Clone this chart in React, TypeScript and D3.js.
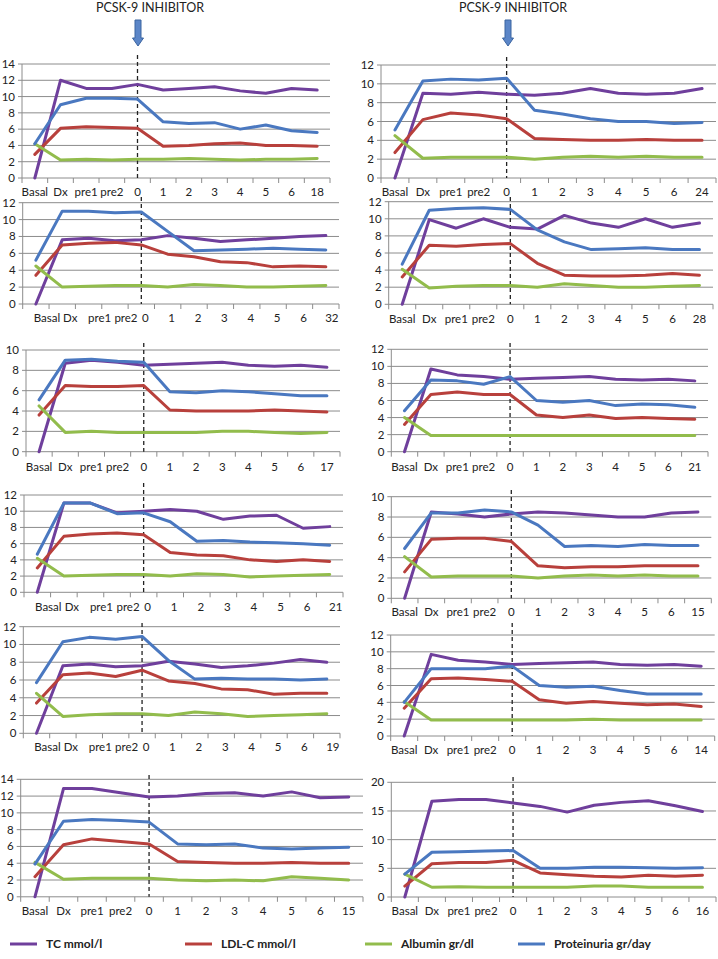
import React from 'react';
import * as d3 from 'd3';

const baseCategories = ["Basal", "Dx", "pre1", "pre2", "0", "1", "2", "3", "4", "5", "6"];
const lastLabels = ["18", "24", "32", "28", "17", "21", "21", "15", "19", "14", "15", "16"];
const yMaxes = [14, 12, 12, 12, 10, 12, 12, 10, 12, 12, 14, 20];
const ySteps = [2, 2, 2, 2, 2, 2, 2, 2, 2, 2, 2, 5];

const tcValues = [
  [0, 12.0, 11.0, 11.0, 11.5, 10.8, 11.0, 11.2, 10.7, 10.4, 11.0, 10.8],
  [0, 9.0, 8.9, 9.1, 8.9, 8.8, 9.0, 9.5, 9.0, 8.9, 9.0, 9.5],
  [0, 7.6, 7.8, 7.5, 7.6, 8.1, 7.8, 7.4, 7.6, 7.8, 8.0, 8.1],
  [0, 9.9, 8.9, 10.0, 9.0, 8.8, 10.4, 9.5, 9.0, 10.0, 9.0, 9.5],
  [0, 8.7, 9.0, 8.8, 8.5, 8.6, 8.7, 8.8, 8.5, 8.4, 8.5, 8.3],
  [0, 9.7, 9.0, 8.8, 8.5, 8.6, 8.7, 8.8, 8.5, 8.4, 8.5, 8.3],
  [0, 11.0, 11.0, 9.8, 10.0, 10.2, 10.0, 9.0, 9.4, 9.5, 7.9, 8.1],
  [0, 8.5, 8.3, 8.0, 8.3, 8.5, 8.4, 8.2, 8.0, 8.0, 8.4, 8.5],
  [0, 7.6, 7.8, 7.5, 7.6, 8.1, 7.8, 7.4, 7.6, 7.9, 8.3, 8.0],
  [0, 9.7, 9.0, 8.8, 8.5, 8.6, 8.7, 8.8, 8.5, 8.4, 8.5, 8.3],
  [0, 12.9, 12.9, 12.4, 11.9, 12.0, 12.3, 12.4, 12.0, 12.5, 11.8, 11.9],
  [0, 16.7, 17.0, 17.0, 16.4, 15.8, 14.8, 16.0, 16.5, 16.8, 15.9, 14.9],
];

const ldlValues = [
  [2.9, 6.1, 6.3, 6.2, 6.1, 3.9, 4.0, 4.2, 4.3, 4.0, 4.0, 3.9],
  [2.7, 6.2, 6.9, 6.7, 6.3, 4.2, 4.1, 4.0, 4.0, 4.1, 4.0, 4.0],
  [3.4, 7.0, 7.2, 7.3, 7.0, 5.9, 5.6, 5.0, 4.9, 4.4, 4.5, 4.4],
  [3.2, 6.9, 6.8, 7.0, 7.1, 4.8, 3.4, 3.3, 3.3, 3.4, 3.6, 3.4],
  [3.6, 6.5, 6.4, 6.4, 6.5, 4.1, 4.0, 4.0, 4.0, 4.1, 4.0, 3.9],
  [3.2, 6.7, 7.0, 6.7, 6.7, 4.3, 4.0, 4.3, 3.9, 4.0, 3.9, 3.8],
  [3.0, 6.9, 7.2, 7.3, 7.1, 4.9, 4.6, 4.5, 4.0, 3.8, 4.0, 3.8],
  [2.6, 5.8, 5.9, 5.9, 5.6, 3.2, 3.0, 3.1, 3.1, 3.2, 3.2, 3.2],
  [3.4, 6.6, 6.8, 6.4, 7.1, 5.9, 5.6, 5.0, 4.9, 4.4, 4.5, 4.5],
  [3.3, 6.8, 6.9, 6.7, 6.5, 4.3, 3.9, 4.1, 3.9, 3.7, 3.8, 3.5],
  [2.4, 6.2, 6.9, 6.6, 6.3, 4.2, 4.1, 4.0, 4.0, 4.1, 4.0, 4.0],
  [1.9, 5.8, 6.0, 6.0, 6.4, 4.2, 3.9, 3.6, 3.5, 3.8, 3.6, 3.8],
];

const albuminValues = [
  [4.2, 2.2, 2.3, 2.2, 2.3, 2.3, 2.4, 2.3, 2.2, 2.3, 2.3, 2.4],
  [4.5, 2.1, 2.2, 2.2, 2.2, 2.0, 2.2, 2.3, 2.2, 2.3, 2.2, 2.2],
  [4.5, 2.0, 2.1, 2.2, 2.2, 2.0, 2.3, 2.2, 2.0, 2.0, 2.1, 2.2],
  [4.1, 1.9, 2.1, 2.2, 2.2, 2.0, 2.4, 2.2, 2.0, 2.0, 2.1, 2.2],
  [4.5, 1.9, 2.0, 1.9, 1.9, 1.9, 1.9, 2.0, 2.0, 1.9, 1.8, 1.9],
  [4.0, 1.9, 1.9, 1.9, 1.9, 1.9, 1.9, 1.9, 1.9, 1.9, 1.9, 1.9],
  [4.2, 2.0, 2.1, 2.2, 2.2, 2.0, 2.3, 2.2, 1.9, 2.0, 2.1, 2.2],
  [4.1, 2.1, 2.2, 2.2, 2.2, 2.0, 2.2, 2.3, 2.2, 2.3, 2.2, 2.2],
  [4.5, 1.9, 2.1, 2.2, 2.2, 2.0, 2.4, 2.2, 1.9, 2.0, 2.1, 2.2],
  [4.1, 1.9, 1.9, 1.9, 1.9, 1.9, 1.9, 2.0, 1.9, 1.9, 1.9, 1.9],
  [4.1, 2.1, 2.2, 2.2, 2.2, 2.0, 1.9, 2.0, 1.9, 2.4, 2.2, 2.0],
  [4.0, 1.7, 1.8, 1.7, 1.7, 1.7, 1.7, 1.9, 1.9, 1.7, 1.7, 1.7],
];

const proteinuriaValues = [
  [4.2, 9.0, 9.8, 9.8, 9.7, 6.9, 6.7, 6.8, 6.0, 6.5, 5.8, 5.6],
  [5.1, 10.3, 10.5, 10.4, 10.6, 7.2, 6.8, 6.3, 6.0, 6.0, 5.8, 5.9],
  [5.2, 11.0, 11.0, 10.8, 10.9, 8.6, 6.3, 6.4, 6.5, 6.6, 6.5, 6.4],
  [4.7, 11.0, 11.2, 11.3, 11.1, 8.7, 7.3, 6.4, 6.5, 6.6, 6.4, 6.4],
  [5.1, 9.0, 9.1, 8.9, 8.8, 5.9, 5.8, 6.0, 5.9, 5.7, 5.5, 5.5],
  [4.8, 8.4, 8.3, 7.9, 8.8, 6.0, 5.8, 6.0, 5.4, 5.6, 5.5, 5.2],
  [4.7, 11.0, 11.0, 9.7, 9.8, 8.7, 6.3, 6.4, 6.2, 6.1, 6.0, 5.8],
  [4.9, 8.4, 8.4, 8.7, 8.5, 7.2, 5.1, 5.2, 5.1, 5.3, 5.2, 5.2],
  [5.7, 10.3, 10.8, 10.6, 10.9, 8.2, 6.1, 6.2, 6.1, 6.1, 6.0, 6.1],
  [4.0, 8.0, 8.0, 8.0, 8.3, 6.0, 5.8, 5.9, 5.4, 5.0, 5.0, 5.0],
  [3.9, 9.0, 9.2, 9.1, 8.9, 6.3, 6.2, 6.3, 5.8, 5.7, 5.8, 5.9],
  [4.0, 7.8, 7.9, 8.0, 8.1, 5.0, 5.0, 5.2, 5.2, 5.1, 5.0, 5.1],
];

const seriesNames = ["TC mmol/l", "LDL-C mmol/l", "Albumin gr/dl", "Proteinuria gr/day"];
const seriesData = [tcValues, ldlValues, albuminValues, proteinuriaValues];
const seriesColors = ["#6f3f9c", "#b8403c", "#92bc4c", "#4a78c0"];

const titleText = "PCSK-9 INHIBITOR";

// panel frames: [left, right, top, bottom, dashTop, labelY]
const frames = [
  [22, 330, 64, 178, 55, 196],
  [381, 716, 65, 178, 57, 196],
  [22.7, 339, 202.7, 304, 197, 322],
  [388.7, 713, 201.7, 304.3, 197, 323],
  [26, 340, 350, 451.7, 343, 471],
  [391.3, 708, 349.3, 451.7, 343, 471],
  [24, 343, 495, 592.3, 483, 611],
  [391.3, 711.3, 496.7, 598.3, 490, 616],
  [23.3, 340, 626.7, 733.3, 623, 751],
  [390.7, 714.7, 635, 736, 623, 754],
  [20.7, 363, 779.3, 896.8, 775, 915],
  [391.3, 716, 782.3, 897, 777, 915],
];

// horizontal nudges of the category labels in the panels whose axis text is misaligned
const shiftedLabels = [11, 8, 11, 11, 4, 4, 4, 4, 4, 4, 4, 6];
const panelsWithShift = [2, 6, 8];

const FONT = "Lato, 'Open Sans', sans-serif";
const GRID = "#8c8c8c";
const LEGEND_Y = 944;

function Panel({ idx }: { idx: number }) {
  const [left, right, top, bottom, dashTop, labelY] = frames[idx];
  const cats = [...baseCategories, lastLabels[idx]];
  const x = d3.scaleBand<string>().domain(cats).range([left, right]).padding(0);
  const cx = (c: string) => (x(c) as number) + x.bandwidth() / 2;
  const y = d3.scaleLinear().domain([0, yMaxes[idx]]).range([bottom, top]);
  const ticks = d3.range(0, yMaxes[idx] + 0.001, ySteps[idx]);
  const line = d3
    .line<number>()
    .x((_, i) => cx(cats[i]))
    .y((v) => y(v));
  const boundaries = d3.range(0, cats.length + 1).map((i) => left + i * x.bandwidth());
  const shift = panelsWithShift.includes(idx) ? shiftedLabels : cats.map(() => 0);
  return (
    <g>
      {ticks.map((t) => (
        <g key={t}>
          <line x1={left - 4} x2={right} y1={y(t)} y2={y(t)} stroke={GRID} strokeWidth={1} />
          <text x={left - 7} y={y(t) + 4} textAnchor="end" fontSize={11.5} fontFamily={FONT} fill="#222">
            {t}
          </text>
        </g>
      ))}
      <line x1={left} x2={left} y1={top} y2={bottom} stroke={GRID} strokeWidth={1} />
      {boundaries.map((b, i) => (
        <line key={i} x1={b} x2={b} y1={bottom} y2={bottom + 5} stroke={GRID} strokeWidth={1} />
      ))}
      {cats.map((c, i) => (
        <text key={i} x={cx(c) + shift[i]} y={labelY} textAnchor="middle" fontSize={11.5} fontFamily={FONT} fill="#222">
          {c}
        </text>
      ))}
      <line
        x1={cx("0")}
        x2={cx("0")}
        y1={dashTop}
        y2={bottom}
        stroke="#222"
        strokeWidth={1.3}
        strokeDasharray="4,3"
      />
      {seriesData.map((s, si) => (
        <path
          key={si}
          d={line(s[idx]) as string}
          fill="none"
          stroke={seriesColors[si]}
          strokeWidth={3}
          strokeLinejoin="round"
          strokeLinecap="round"
        />
      ))}
    </g>
  );
}

function Arrow({ cx }: { cx: number }) {
  const top = 20;
  const headTop = 38;
  const tip = 46;
  const d = `M${cx - 3},${top} L${cx + 3},${top} L${cx + 3},${headTop} L${cx + 5.5},${headTop} L${cx},${tip} L${cx - 5.5},${headTop} L${cx - 3},${headTop} Z`;
  return <path d={d} fill="#5b86c8" stroke="#3b64a0" strokeWidth={1} />;
}

const legendX = [10, 185, 365, 518];

export default function App() {
  return (
    <svg
      width={718}
      height={959}
      style={{ position: 'absolute', left: 0, top: 0, background: '#fff' }}
    >
      <rect width={718} height={959} fill="#fff" />
      <text x={150} y={12} textAnchor="middle" fontSize={12.5} fontFamily={FONT} fill="#222">
        {titleText}
      </text>
      <text x={513} y={12} textAnchor="middle" fontSize={12.5} fontFamily={FONT} fill="#222">
        {titleText}
      </text>
      <Arrow cx={138} />
      <Arrow cx={508} />
      {frames.map((_, i) => (
        <Panel key={i} idx={i} />
      ))}
      {seriesNames.map((n, i) => (
        <g key={n}>
          <line x1={legendX[i]} x2={legendX[i] + 27} y1={LEGEND_Y} y2={LEGEND_Y} stroke={seriesColors[i]} strokeWidth={3} />
          <text x={legendX[i] + 36} y={LEGEND_Y + 4} fontSize={12} fontWeight="bold" fontFamily={FONT} fill="#222">
            {n}
          </text>
        </g>
      ))}
    </svg>
  );
}
